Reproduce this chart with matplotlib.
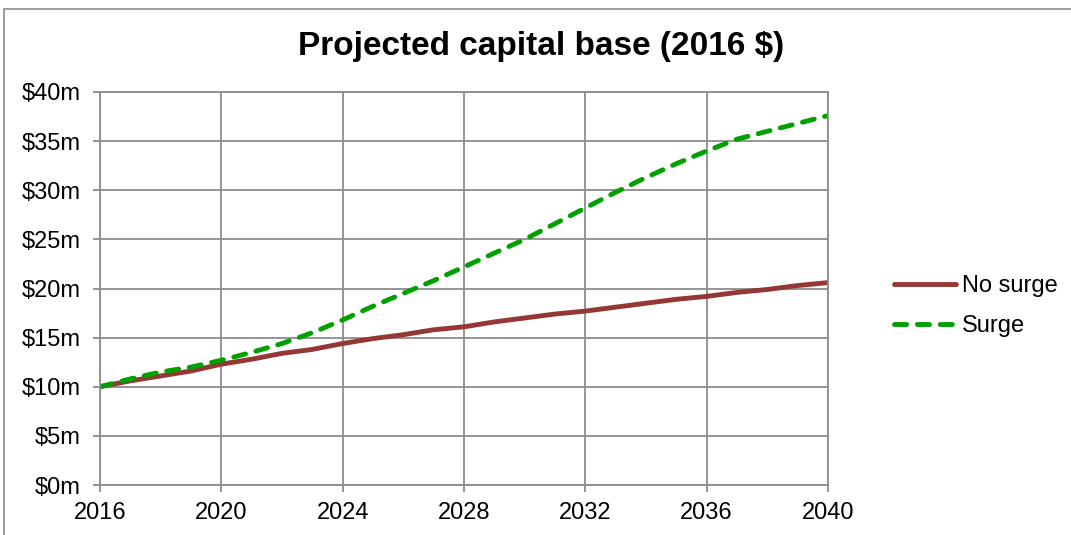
import matplotlib
matplotlib.use("Agg")
import matplotlib.pyplot as plt
from matplotlib.patches import Rectangle
from matplotlib.ticker import FuncFormatter

years = list(range(2016, 2041))
no_surge = [10.0, 10.6, 11.1, 11.6, 12.3, 12.8, 13.4, 13.8, 14.4, 14.9, 15.3, 15.8, 16.1,
            16.6, 17.0, 17.4, 17.7, 18.1, 18.5, 18.9, 19.2, 19.6, 19.9, 20.3, 20.6]
surge = [10.0, 10.8, 11.5, 12.0, 12.7, 13.5, 14.4, 15.5, 16.8, 18.2, 19.5, 20.8, 22.2,
         23.6, 25.0, 26.6, 28.2, 29.8, 31.3, 32.7, 34.0, 35.2, 36.0, 36.8, 37.6]
x_ticks = [2016, 2020, 2024, 2028, 2032, 2036, 2040]
y_ticks = [0, 5, 10, 15, 20, 25, 30, 35, 40]
title = "Projected capital base (2016 $)"

plt.rcParams['font.family'] = ['Liberation Sans', 'DejaVu Sans']

fig = plt.figure(figsize=(10.71, 5.35), dpi=100)
ax = fig.add_axes([100/1071, 50/535, 728/1071, 393/535])

grid_c = '#8c8c8c'
ax.plot(years, no_surge, color='#953735', lw=3.5, solid_capstyle='round', label='No surge')
ax.plot(years, surge, color='#00a000', lw=3.5, dashes=(2.5, 2.2), dash_capstyle='round', label='Surge')

ax.set_xlim(2016, 2040)
ax.set_ylim(0, 40)
ax.set_xticks(x_ticks)
ax.set_yticks(y_ticks)
ax.yaxis.set_major_formatter(FuncFormatter(lambda v, p: f"${int(v)}m"))
ax.grid(True, color=grid_c, lw=1.3)
ax.set_axisbelow(True)
for s in ax.spines.values():
    s.set_color(grid_c)
    s.set_linewidth(1.3)
ax.tick_params(axis='both', colors=grid_c, length=5, width=1.3, labelsize=17, labelcolor='black')
ax.tick_params(axis='x', pad=7)
ax.tick_params(axis='y', pad=9)

fig.text(541/1071, 1 - 47/535, title, ha='center', va='center', fontsize=24, fontweight='bold')

leg = fig.legend(loc='center left', bbox_to_anchor=(873/1071, 1 - 306/535), frameon=False,
                 fontsize=17, handlelength=2.63, handletextpad=0.25, labelspacing=0.76)

fig.add_artist(Rectangle((4/1071, -0.02), 1.2, 1 - 9/535 + 0.02, transform=fig.transFigure,
                         fill=False, edgecolor='#8c8c8c', lw=1.2))

fig.savefig('out.png', dpi=100)
